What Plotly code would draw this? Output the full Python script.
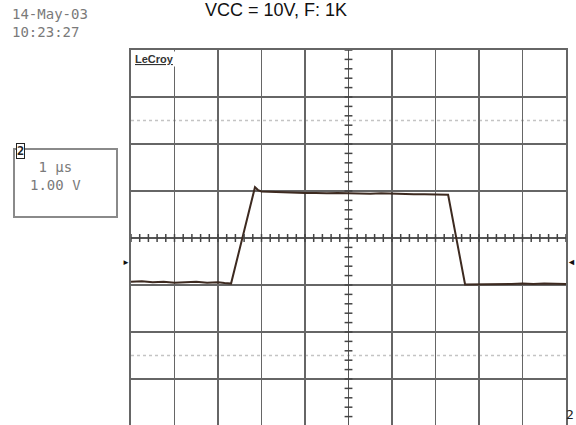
import numpy as np
import plotly.graph_objects as go

# ---- data (time in µs, level in divisions of 1 V) ----
time_us = [-5.0, -4.75, -4.5, -4.25, -4.0, -3.75, -3.5, -3.25, -3.0, -2.85, -2.70,
           -2.15, -2.08, -2.0, -1.75, -1.5, -1.25, -1.0, -0.75, -0.5, -0.25, 0.0,
           0.25, 0.5, 0.75, 1.0, 1.25, 1.5, 1.75, 2.0, 2.15, 2.29,
           2.68, 2.8, 3.0, 3.25, 3.5, 3.75, 4.0, 4.25, 4.5, 4.75, 5.0]
volts = [-0.93, -0.92, -0.94, -0.93, -0.95, -0.94, -0.93, -0.95, -0.94, -0.96, -0.97,
         1.08, 1.02, 0.99, 0.98, 0.97, 0.97, 0.96, 0.96, 0.95, 0.96, 0.95,
         0.95, 0.94, 0.95, 0.94, 0.94, 0.93, 0.93, 0.93, 0.92, 0.92,
         -0.99, -0.99, -0.98, -0.99, -0.98, -0.98, -0.97, -0.98, -0.97, -0.97, -0.98]

title_text = "VCC = 10V, F: 1K"
date_text = "14-May-03"
clock_text = "10:23:27"
timebase_text = " 1 μs"
volts_text = "1.00 V"
brand_text = "LeCroy"
channel_text = "2"
marker_level = -0.51

X0, X1 = -5, 5
Y0, Y1 = -3.979, 4

fig = go.Figure()
fig.add_trace(go.Scatter(x=time_us, y=volts, mode="lines",
                         line=dict(color="#3d2a20", width=2), showlegend=False,
                         hoverinfo="skip"))

grid = "#666666"
shapes = []
# dotted rows
for yy in (2.5, -2.5):
    shapes.append(dict(type="line", x0=X0, x1=X1, y0=yy, y1=yy, xref="x", yref="y",
                       line=dict(color="#c4c4c4", width=1.5, dash="dot"), layer="below"))
# center crosshair ticks
for t in np.arange(-5, 5.01, 0.2):
    shapes.append(dict(type="line", x0=t, x1=t, y0=-0.085, y1=0.085, xref="x", yref="y",
                       line=dict(color="#444444", width=1.5)))
for v in np.arange(-4, 4.01, 0.2):
    shapes.append(dict(type="line", x0=-0.09, x1=0.09, y0=v, y1=v, xref="x", yref="y",
                       line=dict(color="#444444", width=1.5)))
# info box
shapes.append(dict(type="rect", xref="paper", yref="paper",
                   x0=(14 - 131) / 435, x1=(117 - 131) / 435,
                   y0=1 - (217 - 50) / 375, y1=1 - (149 - 50) / 375,
                   line=dict(color="#8a8a8a", width=2), fillcolor="rgba(0,0,0,0)"))

fig.update_layout(
    width=576, height=425,
    margin=dict(l=131, r=10, t=50, b=0),
    paper_bgcolor="white", plot_bgcolor="white",
    shapes=shapes,
    xaxis=dict(range=[X0, X1], dtick=1, tick0=0, showgrid=True, gridcolor=grid, gridwidth=1.5,
               zeroline=True, zerolinecolor="#555555", zerolinewidth=1.5,
               showticklabels=False, ticks="", showline=True, linecolor=grid, linewidth=2,
               mirror=True),
    yaxis=dict(range=[Y0, Y1], dtick=1, tick0=0, showgrid=True, gridcolor=grid, gridwidth=1.5,
               zeroline=True, zerolinecolor="#555555", zerolinewidth=1.5,
               showticklabels=False, ticks="", showline=True, linecolor=grid, linewidth=2,
               mirror=True),
)

mono = "DejaVu Sans Mono"
ann = []
ann.append(dict(text=title_text, xref="paper", yref="paper", x=(276 - 131) / 435,
                y=1 + (50 - 10) / 375, xanchor="center", yanchor="middle", showarrow=False,
                font=dict(family="Liberation Sans, Arial", size=18, color="#111111")))
ann.append(dict(text=date_text + "<br>" + clock_text, xref="paper", yref="paper",
                x=(10 - 131) / 435, y=1 + (50 - 23) / 375, xanchor="left", yanchor="middle",
                align="left", showarrow=False,
                font=dict(family=mono, size=14, color="#7a7a7a")))
ann.append(dict(text=timebase_text + "<br>" + volts_text, xref="paper", yref="paper",
                x=(28 - 131) / 435, y=1 - (175.5 - 50) / 375, xanchor="left", yanchor="middle",
                align="left", showarrow=False,
                font=dict(family=mono, size=14, color="#7a7a7a")))
ann.append(dict(text="<b>" + channel_text + "</b>", xref="paper", yref="paper",
                x=(21 - 131) / 435, y=1 - (151 - 50) / 375, xanchor="center", yanchor="middle",
                showarrow=False, bgcolor="white", bordercolor="#222222", borderwidth=1,
                borderpad=0, font=dict(family=mono, size=12, color="#222222")))
ann.append(dict(text="<b><u>" + brand_text + "</u></b>", xref="paper", yref="paper",
                x=(133 - 131) / 435, y=1 - (51 - 50) / 375, xanchor="left", yanchor="top",
                showarrow=False, bgcolor="white",
                font=dict(family="Liberation Sans, Arial", size=11, color="#333333")))
ann.append(dict(text="►", xref="paper", yref="y", x=(126 - 131) / 435, y=marker_level,
                xanchor="center", yanchor="middle", showarrow=False,
                font=dict(size=8, color="#111111")))
ann.append(dict(text="◄", xref="paper", yref="y", x=(571 - 131) / 435, y=marker_level,
                xanchor="center", yanchor="middle", showarrow=False,
                font=dict(size=9, color="#111111")))
ann.append(dict(text=channel_text, xref="paper", yref="paper", x=(570 - 131) / 435,
                y=1 - (414 - 50) / 375, xanchor="center", yanchor="middle", showarrow=False,
                font=dict(family=mono, size=13, color="#222222")))
fig.update_layout(annotations=ann)

fig.write_html("out.html", config={"displayModeBar": False, "staticPlot": True},
               post_script="document.body.style.margin='0';document.body.style.overflow='hidden';")
